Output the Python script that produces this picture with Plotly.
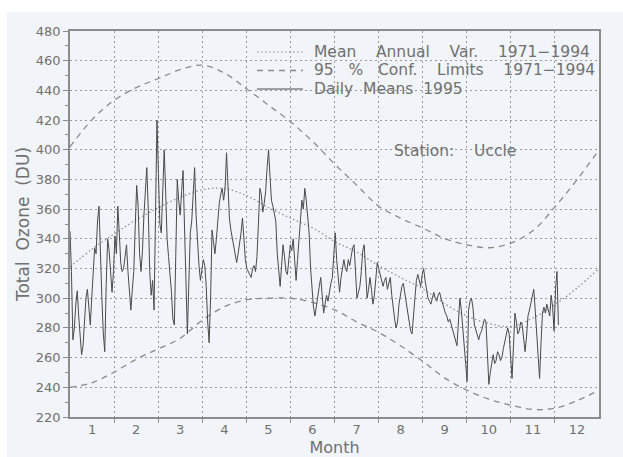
import plotly.graph_objects as go

# ---- Climatology 1971-1994 (values at ~half-month nodes, day of year) ----
clim_days = [0, 15, 30, 46, 61, 76, 91, 106, 122, 137, 152, 168, 183,
             198, 213, 228, 244, 259, 274, 289, 304, 320, 335, 350, 365]
mean_annual = [321, 333, 343, 353, 361, 368, 373, 374, 369, 361, 354, 347, 338,
               331, 322, 314, 306, 296, 288, 283, 281, 287, 296, 307, 320]
conf_upper = [402, 420, 433, 442, 448, 454, 457, 452, 441, 430, 419, 405, 390,
              376, 362, 354, 347, 340, 336, 334, 337, 346, 362, 380, 400]
conf_lower = [240, 243, 250, 259, 266, 273, 285, 294, 299, 300, 300, 297, 292,
              284, 277, 268, 257, 246, 238, 232, 228, 225, 226, 231, 238]

# ---- Daily means 1995 (DU), starting 1 January ----
daily_1995 = [
    345, 318, 272, 280, 296, 305, 288, 276, 262, 268,
    285, 300, 306, 294, 282, 300, 318, 334, 330, 352,
    362, 322, 300, 276, 264, 310, 340, 332, 318, 304,
    318, 342, 330, 362, 344, 324, 318, 320, 328, 336,
    318, 302, 292, 306, 318, 348, 376, 362, 330, 318,
    332, 356, 372, 388, 360, 318, 302, 312, 292, 350,
    420, 384, 350, 344, 378, 400, 372, 340, 328, 318,
    304, 286, 282, 330, 380, 366, 356, 372, 386, 348,
    300, 276, 310, 344, 352, 372, 388, 356, 334, 322,
    312, 318, 326, 322, 308, 284, 270, 300, 346, 338,
    330, 340, 356, 364, 370, 374, 366, 374, 398, 372,
    354, 346, 340, 336, 330, 324, 330, 336, 344, 354,
    340, 326, 320, 318, 316, 314, 320, 322, 318, 328,
    350, 374, 370, 358, 364, 372, 388, 400, 382, 366,
    362, 358, 352, 330, 318, 308, 322, 336, 328, 318,
    316, 328, 336, 332, 340, 326, 312, 326, 340, 352,
    366, 360, 374, 366, 356, 344, 320, 306, 294, 288,
    296, 300, 308, 314, 300, 290, 296, 302, 298, 306,
    310, 314, 330, 344, 326, 312, 304, 314, 320, 326,
    320, 318, 326, 322, 328, 334, 336, 312, 300, 304,
    308, 318, 332, 336, 316, 300, 306, 314, 306, 296,
    302, 316, 324, 320, 316, 310, 308, 312, 314, 306,
    310, 314, 302, 292, 286, 280, 284, 296, 304, 308,
    310, 304, 296, 292, 284, 278, 276, 290, 304, 312,
    316, 312, 308, 316, 320, 312, 304, 300, 298, 296,
    300, 304, 300, 298, 302, 304, 300, 296, 294, 290,
    288, 284, 286, 282, 278, 274, 270, 268, 284, 300,
    292, 280, 266, 250, 244, 292, 298, 300, 294, 282,
    278, 276, 272, 276, 278, 282, 286, 284, 262, 242,
    250, 258, 262, 256, 258, 264, 262, 258, 260, 266,
    270, 274, 280, 276, 262, 246, 268, 290, 284, 276,
    278, 284, 282, 272, 264, 274, 288, 292, 296, 302,
    306, 292, 274, 258, 246, 270, 290, 294, 290, 296,
    292, 288, 302, 294, 278, 306, 318, 282,
]
daily_days = list(range(len(daily_1995)))

month_labels = ["1", "2", "3", "4", "5", "6", "7", "8", "9", "10", "11", "12"]
y_ticks = list(range(220, 481, 20))

MONTH_LEN = 365 / 12
month_centres = [MONTH_LEN * (i + 0.5) for i in range(12)]
month_edges = [MONTH_LEN * i for i in range(1, 12)]

FONT = "DejaVu Sans"
GREY_TXT = "#707070"


def sp(n):
    return "\u00a0" * n


MEAN_LINE = dict(color="#8a8a8a", width=1.2, dash="1.5px,2.5px")
CONF_LINE = dict(color="#8a8a8a", width=1.3, dash="6px,5px")
DAILY_LINE = dict(color="#4a4a4a", width=1)

series = [
    (f"Mean{sp(4)}Annual{sp(4)}Var.{sp(4)}1971\u22121994", MEAN_LINE),
    (f"95{sp(3)}%{sp(3)}Conf.{sp(4)}Limits{sp(4)}1971\u22121994", CONF_LINE),
    (f"Daily{sp(2)}Means{sp(2)}1995", DAILY_LINE),
]

fig = go.Figure()

fig.add_trace(go.Scatter(
    x=clim_days, y=mean_annual, mode="lines", name=series[0][0],
    line=dict(**MEAN_LINE, shape="spline", smoothing=1),
))
fig.add_trace(go.Scatter(
    x=clim_days, y=conf_upper, mode="lines", name=series[1][0],
    line=dict(**CONF_LINE, shape="spline", smoothing=1),
))
fig.add_trace(go.Scatter(
    x=clim_days, y=conf_lower, mode="lines", name=series[1][0] + " (lower)",
    line=dict(**CONF_LINE, shape="spline", smoothing=1),
))
fig.add_trace(go.Scatter(
    x=daily_days, y=daily_1995, mode="lines", name=series[2][0],
    line=DAILY_LINE,
))

# key in the upper right corner of the frame (compact rows)
key_rows_y = [0.9456, 0.8977, 0.8497]
for (label, style), ky in zip(series, key_rows_y):
    fig.add_shape(type="line", xref="paper", yref="paper",
                  x0=0.3535, x1=0.4405, y0=ky, y1=ky, line=style)
    fig.add_annotation(x=0.457, y=ky, xref="paper", yref="paper",
                       xanchor="left", yanchor="middle", showarrow=False,
                       height=18, text=label,
                       font=dict(family=FONT, size=15.5, color=GREY_TXT))

fig.add_annotation(
    x=222, y=399, xref="x", yref="y", xanchor="left", yanchor="middle",
    text=f"Station:{sp(4)}Uccle", showarrow=False,
    font=dict(family=FONT, size=15.5, color=GREY_TXT),
)

# light tint of the paper page
fig.add_shape(type="rect", xref="paper", yref="paper", layer="below",
              x0=-0.119, x1=1.1, y0=-0.12, y1=1.049,
              fillcolor="#f1f4f8", line=dict(width=0))

grid_style = dict(gridcolor="#9a9a9a", gridwidth=1, griddash="2px,3px")

fig.update_xaxes(
    range=[0, 365], tickmode="array", tickvals=month_centres, ticktext=month_labels,
    ticks="", showgrid=False, zeroline=False, automargin=False,
    showline=True, linecolor="#8c8c8c", linewidth=1.5, mirror=True,
    tickfont=dict(family=FONT, size=13, color=GREY_TXT),
    minor=dict(tickmode="array", tickvals=month_edges, ticks="outside", ticklen=4,
               tickcolor="#8c8c8c", showgrid=True, **grid_style),
    title=dict(text="Month", font=dict(family=FONT, size=16, color=GREY_TXT), standoff=6),
)
fig.update_yaxes(
    range=[220, 480], tickmode="array", tickvals=y_ticks,
    ticks="outside", ticklen=5, tickcolor="#8c8c8c",
    showgrid=True, zeroline=False, automargin=False, **grid_style,
    showline=True, linecolor="#8c8c8c", linewidth=1.5, mirror=True,
    tickfont=dict(family=FONT, size=13, color=GREY_TXT),
    minor=dict(dtick=10, ticks="outside", ticklen=3, tickcolor="#8c8c8c", showgrid=False),
    title=dict(text=f"Total{sp(2)}Ozone{sp(2)}(DU)",
               font=dict(family=FONT, size=17, color=GREY_TXT), standoff=2),
)

fig.update_layout(
    width=623, height=457,
    margin=dict(l=70, r=24, t=31, b=40),
    paper_bgcolor="#ffffff", plot_bgcolor="#f7f9fc",
    showlegend=False,
)

fig.write_html("out.html")
